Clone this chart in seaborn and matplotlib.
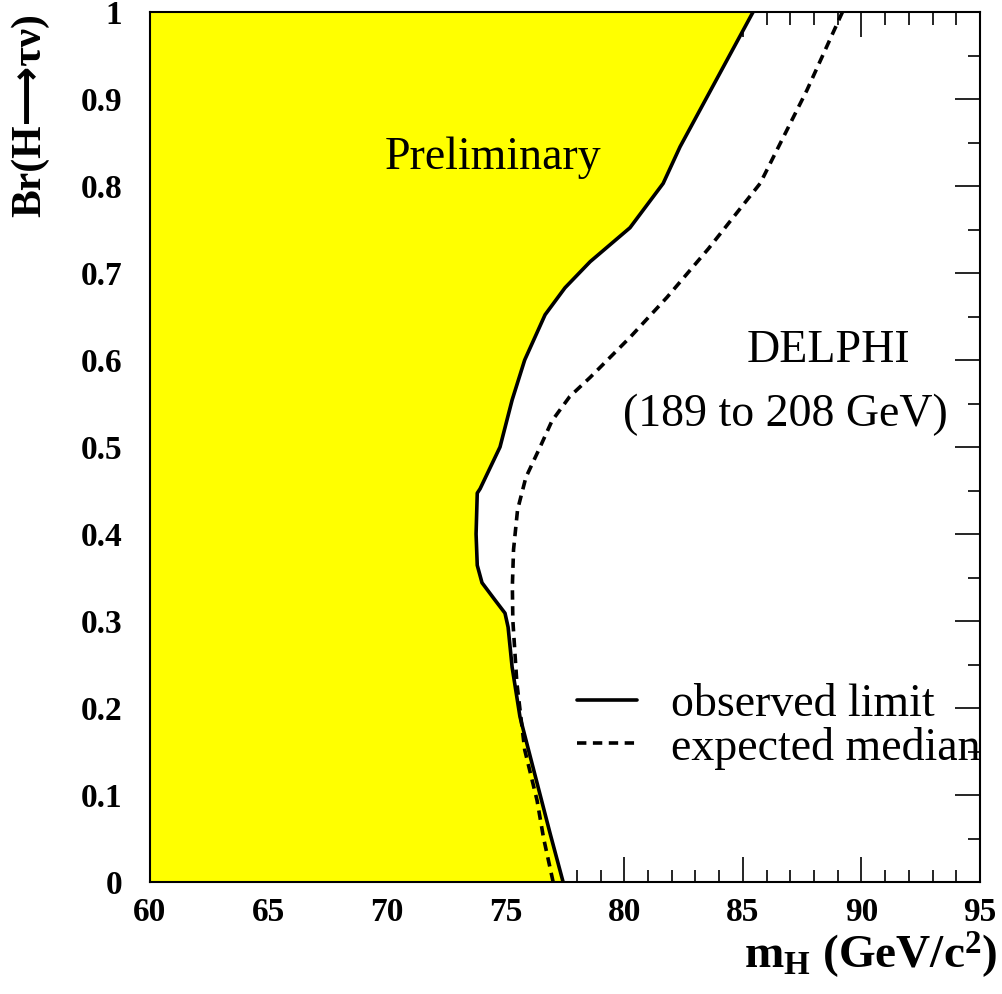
import matplotlib
matplotlib.use("Agg")
import matplotlib.pyplot as plt
import seaborn as sns
import pandas as pd
from matplotlib.ticker import MultipleLocator
from matplotlib.lines import Line2D

# ---- data ----
obs_mass = [77.42, 76.87, 76.32, 75.60, 75.27, 75.10, 74.97, 74.55, 74.00, 73.80, 73.75, 73.80,
            73.92, 74.76, 75.27, 75.80, 76.66, 77.50, 78.56, 80.24, 81.64, 82.35, 85.43]
obs_br = [0.000, 0.056, 0.114, 0.190, 0.247, 0.293, 0.309, 0.324, 0.344, 0.364, 0.400, 0.447,
          0.452, 0.500, 0.554, 0.600, 0.652, 0.683, 0.713, 0.752, 0.803, 0.845, 1.000]

exp_mass = [77.00, 76.60, 76.32, 75.80, 75.47, 75.30, 75.28, 75.33, 75.50, 75.85, 76.45,
            76.95, 77.70, 78.56, 80.24, 81.80, 83.55, 85.73, 87.70, 89.20]
exp_br = [0.000, 0.050, 0.094, 0.152, 0.229, 0.301, 0.340, 0.382, 0.428, 0.465, 0.500,
          0.530, 0.558, 0.580, 0.626, 0.672, 0.728, 0.803, 0.910, 1.000]

x_ticks = [60, 65, 70, 75, 80, 85, 90, 95]
y_ticks = [0, 0.1, 0.2, 0.3, 0.4, 0.5, 0.6, 0.7, 0.8, 0.9, 1]
y_tick_labels = ["0", "0.1", "0.2", "0.3", "0.4", "0.5", "0.6", "0.7", "0.8", "0.9", "1"]
legend_labels = ["observed limit", "expected median"]

obs = pd.DataFrame({"m": obs_mass, "br": obs_br})
exp = pd.DataFrame({"m": exp_mass, "br": exp_br})

sns.set_theme(style="ticks")
serif = ["Liberation Serif", "DejaVu Serif"]
plt.rcParams["font.family"] = serif
plt.rcParams["text.color"] = "black"
plt.rcParams["axes.labelcolor"] = "black"
plt.rcParams["xtick.color"] = "black"
plt.rcParams["ytick.color"] = "black"
plt.rcParams["mathtext.fontset"] = "custom"
plt.rcParams["mathtext.rm"] = "Liberation Serif:bold"
plt.rcParams["mathtext.bf"] = "Liberation Serif:bold"
plt.rcParams["mathtext.it"] = "Liberation Serif:bold"

fig = plt.figure(figsize=(10.02, 9.94), dpi=100)
ax = fig.add_axes([150 / 1002, 1 - 882 / 994, 830 / 1002, 870 / 994])

ax.fill_betweenx(obs["br"], 60, obs["m"], color="#ffff00", lw=0, zorder=1)
sns.lineplot(data=obs, x="m", y="br", sort=False, estimator=None, color="black",
             lw=2.6, ax=ax, zorder=3)
sns.lineplot(data=exp, x="m", y="br", sort=False, estimator=None, color="black",
             lw=2.6, ax=ax, zorder=3)
ax.lines[-1].set_dashes([2.6, 1.8])

ax.set_xlim(60, 95)
ax.set_ylim(0, 1)
ax.set_xticks(x_ticks)
ax.set_xticklabels([str(t) for t in x_ticks])
ax.set_yticks(y_ticks)
ax.set_yticklabels(y_tick_labels)
ax.xaxis.set_minor_locator(MultipleLocator(1))
ax.yaxis.set_minor_locator(MultipleLocator(0.05))
ax.tick_params(which="both", direction="in", top=True, right=True, width=1.2, color="black")
ax.tick_params(which="major", length=18)
ax.tick_params(which="minor", length=9)
ax.tick_params(axis="x", which="major", pad=11, labelsize=24)
ax.tick_params(axis="y", which="major", pad=20, labelsize=24)
for lab in ax.get_xticklabels() + ax.get_yticklabels():
    lab.set_fontweight("bold")
    lab.set_family(serif)
for s in ax.spines.values():
    s.set_linewidth(1.5)
    s.set_color("black")
    s.set_zorder(5)

ax.set_xlabel(r"$\mathbf{m_H}$ (GeV/c$^\mathbf{2}$)", fontsize=34, fontweight="bold")
ax.xaxis.set_label_coords((998 - 150) / 830, (882 - 955) / 870)
ax.xaxis.label.set_ha("right")
ax.xaxis.label.set_va("center")
ax.set_ylabel("Br(H\u27f6\u03c4\u03bd)", fontsize=30, fontweight="bold",
              family=["Liberation Serif", "DejaVu Sans"])
ax.yaxis.set_label_coords((30 - 150) / 830, (882 - 115) / 870)
ax.yaxis.label.set_va("center")

ax.text(74.47, 0.833, "Preliminary", fontsize=33, ha="center", va="center", zorder=4)
ax.text(88.6, 0.611, "DELPHI", fontsize=33, ha="center", va="center", zorder=4)
ax.text(86.78, 0.537, "(189 to 208 GeV)", fontsize=33, ha="center", va="center", zorder=4)

handles = [Line2D([], [], color="black", lw=2.6),
           Line2D([], [], color="black", lw=2.6, dashes=[2.6, 1.8])]
ax.legend(handles, legend_labels, loc="upper left",
          bbox_to_anchor=((577 - 150) / 830, (882 - 684) / 870),
          frameon=False, fontsize=33, handlelength=1.3, handletextpad=0.75,
          labelspacing=0.0, borderpad=0, borderaxespad=0)

fig.savefig("out.png", dpi=100)
